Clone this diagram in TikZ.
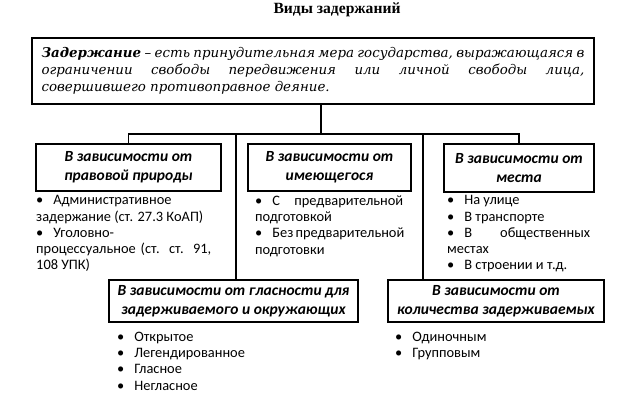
\documentclass[tikz,border=0pt]{standalone}
\usepackage{fontspec}
\setmainfont{Carlito}
\newfontfamily\defnfont{DejaVu Serif}
\newfontfamily\titlefont{Liberation Serif}
\begin{document}
\begin{tikzpicture}[x=1pt,y=-1pt,
  box/.style={draw, line width=2.4pt, align=center, inner sep=0pt,
    font=\fontsize{15.5}{19}\selectfont\bfseries\itshape},
  conn/.style={line width=1.6pt},
  lst/.style={anchor=north west, align=left, inner sep=0pt,
    font=\fontsize{14.4}{16.2}\selectfont}]
\useasboundingbox (0,0) rectangle (631,406);
\fill[white] (0,0) rectangle (631,406);

\node[font=\titlefont\fontsize{15.6}{18}\selectfont\bfseries] (title) at (337,10) {Виды задержаний};

\node[draw, line width=2.8pt, minimum width=562pt, minimum height=66pt, inner sep=0pt,
  align=left, font=\defnfont\fontsize{13.4}{17}\selectfont\itshape] (top) at (313,71)
  {\makebox[543pt][s]{{\bfseries Задержание} – есть принудительная мера государства, выражающаяся в}\\
   \makebox[543pt][s]{ограничении свободы передвижения или личной свободы лица,}\\
   совершившего противоправное деяние.};

\node[box, minimum width=185pt, minimum height=47pt] (b1) at (128.5,167.5) {В зависимости от\\правовой природы};
\node[box, minimum width=163pt, minimum height=47pt] (b2) at (329.5,167.5) {В зависимости от\\имеющегося};
\node[box, minimum width=150pt, minimum height=48pt] (b3) at (519,168) {В зависимости от\\места};
\node[box, minimum width=249pt, minimum height=42pt] (b4) at (233.5,301) {В зависимости от гласности для\\задерживаемого и окружающих};
\node[box, minimum width=216pt, minimum height=42pt] (b5) at (496,301) {В зависимости от\\количества задерживаемых};

\coordinate (j) at (321,134);
\coordinate (v1) at (236,134);
\coordinate (v2) at (423,134);
\draw[conn] (top.south -| j) -- (j);
\draw[conn] (b1.north) -- (b1.north |- j) -- (b3.north |- j) -- (b3.north);
\draw[conn] (v1) -- (v1 |- b4.north);
\draw[conn] (v2) -- (v2 |- b5.north);

\node[lst] (l1) at (36,195.5)
  {\textbullet\hspace{10pt}Административное\\
   задержание (ст. 27.3 КоАП)\\
   \textbullet\hspace{10pt}Уголовно-\\
   \makebox[175pt][s]{процессуальное (ст. ст. 91,}\\
   108 УПК)};
\node[lst] (l2) at (255,195.5)
  {\makebox[148pt][s]{\textbullet\hspace{10pt}С предварительной}\\
   подготовкой\\
   \makebox[148pt][s]{\textbullet\hspace{10pt}Без предварительной}\\
   подготовки};
\node[lst] (l3) at (447,195.5)
  {\textbullet\hspace{10pt}На улице\\
   \textbullet\hspace{10pt}В транспорте\\
   \makebox[143pt][s]{\textbullet\hspace{10pt}В общественных}\\
   местах\\
   \textbullet\hspace{10pt}В строении и т.д.};
\node[lst] (l4) at (117,332)
  {\textbullet\hspace{10pt}Открытое\\
   \textbullet\hspace{10pt}Легендированное\\
   \textbullet\hspace{10pt}Гласное\\
   \textbullet\hspace{10pt}Негласное};
\node[lst] (l5) at (395,332)
  {\textbullet\hspace{10pt}Одиночным\\
   \textbullet\hspace{10pt}Групповым};
\end{tikzpicture}
\end{document}
